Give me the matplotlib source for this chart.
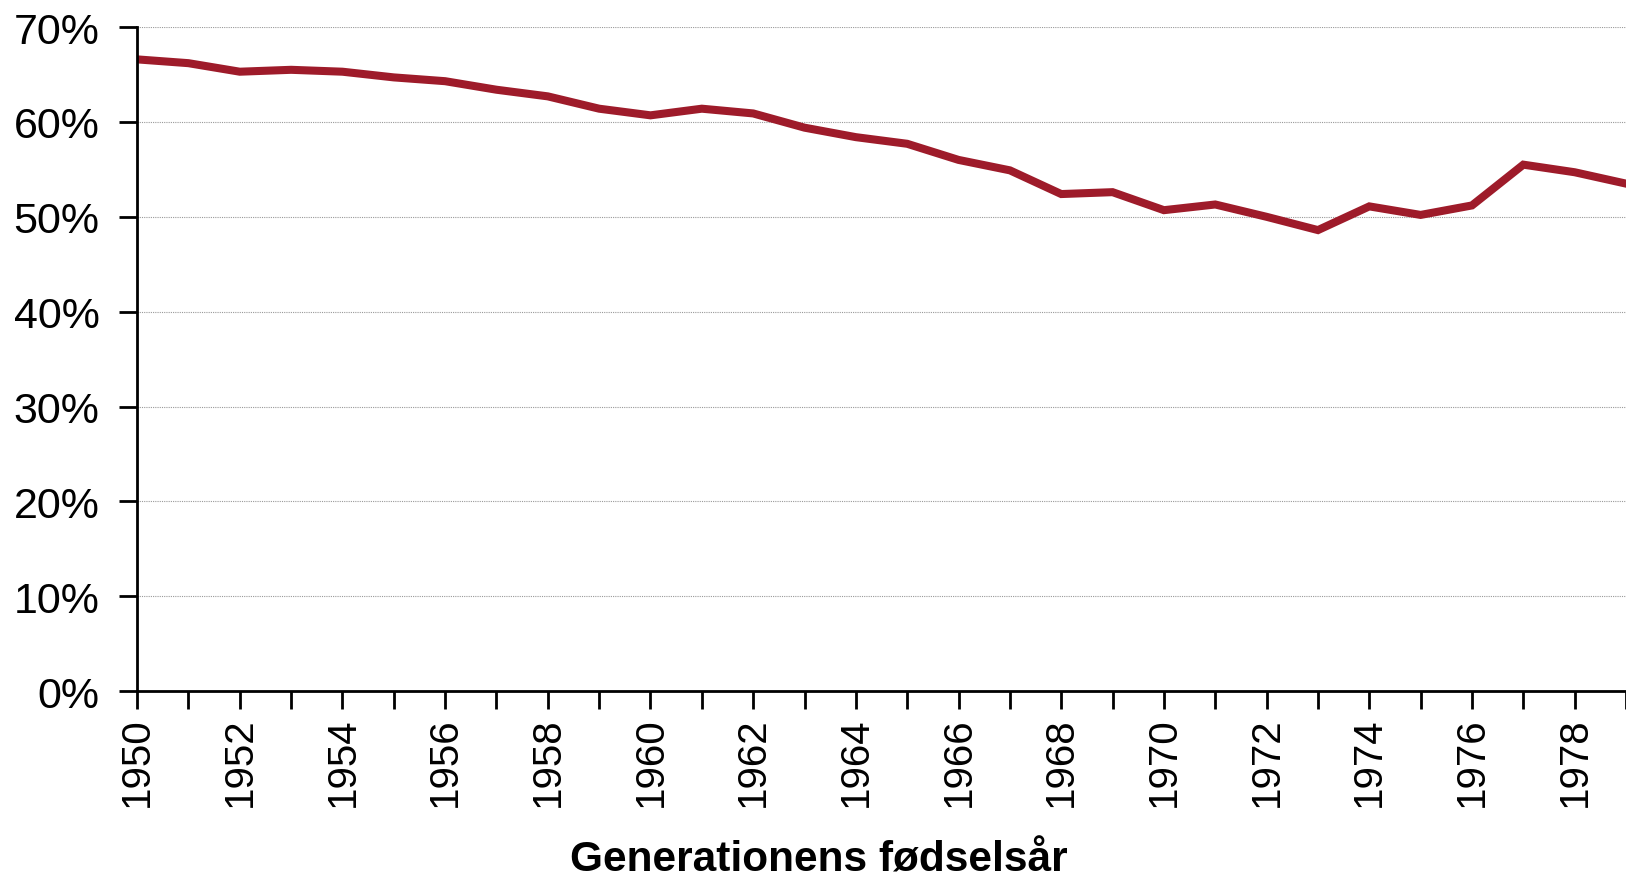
import matplotlib
matplotlib.use("Agg")
import matplotlib.pyplot as plt
from matplotlib.ticker import PercentFormatter, MultipleLocator

plt.rcParams['font.family'] = ['Liberation Sans', 'DejaVu Sans']

# fødselsår og andel
years = list(range(1950, 1980))
share = [66.6, 66.2, 65.3, 65.5, 65.3, 64.7, 64.3, 63.4, 62.7, 61.4,
         60.7, 61.4, 60.9, 59.4, 58.4, 57.7, 56.0, 54.9, 52.4, 52.6,
         50.7, 51.3, 50.0, 48.6, 51.1, 50.2, 51.2, 55.5, 54.7, 53.5]
year_labels = list(range(1950, 1980, 2))

fig = plt.figure(figsize=(16.26, 8.79), dpi=100)
ax = fig.add_axes([0.0843, 0.2127, 0.9157, 0.7553])

ax.plot(years, share, color='#9E1B2A', linewidth=5.8, solid_joinstyle='miter')

ax.set_xlim(1950, 1979)
ax.set_ylim(0, 70)
ax.yaxis.set_major_locator(MultipleLocator(10))
ax.yaxis.set_major_formatter(PercentFormatter(decimals=0))
ax.set_xticks(years, minor=True)
ax.set_xticks(year_labels)
ax.set_xticklabels([str(y) for y in year_labels], rotation=90)

ax.grid(axis='y', color='#999999', linestyle=(0, (1, 1)), linewidth=0.8)
ax.set_axisbelow(True)

for s in ['top', 'right']:
    ax.spines[s].set_visible(False)
for s in ['left', 'bottom']:
    ax.spines[s].set_linewidth(2)

ax.tick_params(axis='both', which='both', direction='out', length=13, width=2,
               colors='black')
ax.tick_params(axis='y', labelsize=31, pad=14)
ax.tick_params(axis='x', labelsize=29, pad=5)

ax.set_xlabel('Generationens fødselsår', fontsize=30.5, fontweight='bold')
ax.xaxis.set_label_coords(0.458, -0.224)

fig.savefig('out.png', dpi=100)
